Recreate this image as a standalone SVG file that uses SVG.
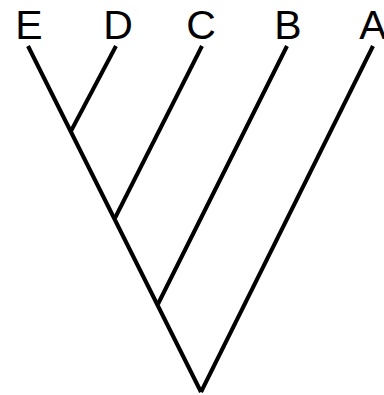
<svg xmlns="http://www.w3.org/2000/svg" width="384" height="395" viewBox="0 0 384 395">
<style>
.l{stroke:#000;stroke-width:4;fill:none;stroke-linecap:butt}
.t{font-family:"Liberation Sans",Arial,sans-serif;font-size:41px;fill:#000;text-anchor:middle}
</style>
<rect width="384" height="395" fill="#fff"/>
<g id="connectors">
<line class="l" x1="28" y1="46" x2="201" y2="392"/>
<line class="l" x1="373" y1="46" x2="201" y2="392"/>
<line class="l" x1="116" y1="46" x2="71" y2="131"/>
<line class="l" x1="202" y1="46" x2="115" y2="218"/>
<line class="l" x1="287" y1="46" x2="158" y2="304"/>
</g>
<g id="E"><text class="t" x="29" y="39">E</text></g>
<g id="D"><text class="t" x="118" y="39">D</text></g>
<g id="C"><text class="t" x="201" y="39">C</text></g>
<g id="B"><text class="t" x="288" y="39">B</text></g>
<g id="A"><text class="t" x="373" y="39">A</text></g>
</svg>
